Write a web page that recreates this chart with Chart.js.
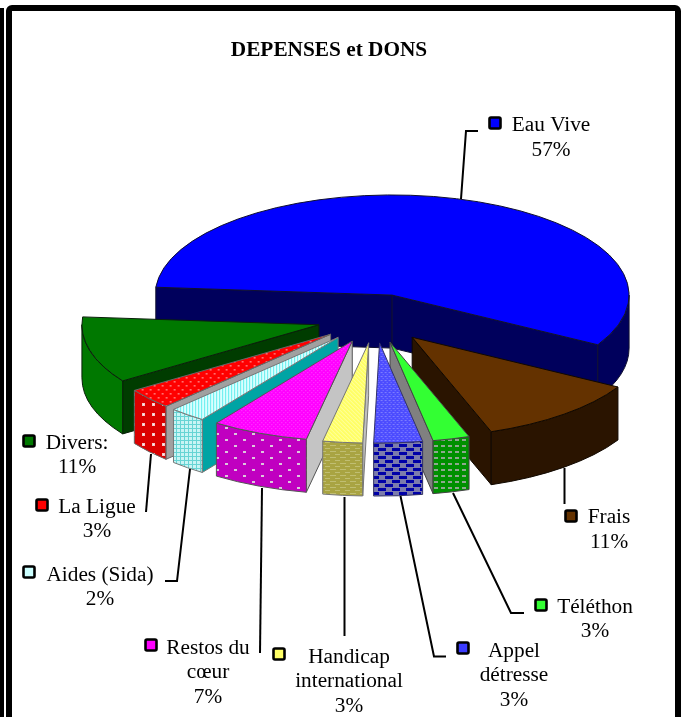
<!DOCTYPE html>
<html><head><meta charset="utf-8">
<style>html,body{margin:0;padding:0;background:#fff}canvas{display:block}</style>
<script src="https://cdn.jsdelivr.net/npm/chart.js@4"></script>
</head><body><canvas id="c" width="686" height="717"></canvas>
<script>
const titleText = 'DEPENSES et DONS';
const categories = ['Eau Vive','Frais','Téléthon','Appel détresse','Handicap international','Restos du cœur','Aides (Sida)','La Ligue','Divers:'];
const percents = [56.9,11.3,2.5,3.3,2.7,6.6,2.5,3.3,10.7];

// ---- look & layout (not data) ----
const PIE = {cx:375, cy:318.5, rx:237, k:0.4225, depth:53, explode:58, rotation:274.5};
const FONT = "21.3px 'Liberation Serif'";
function tile(w,h,bg,draw){
  const c=document.createElement('canvas');c.width=w;c.height=h;
  const g=c.getContext('2d');g.fillStyle=bg;g.fillRect(0,0,w,h);
  if(draw)draw(g);return g.canvas;
}
function px(g,color,list){g.fillStyle=color;list.forEach(p=>g.fillRect(p[0],p[1],p[2]||1,p[3]||1));}
const ctxPat=document.getElementById('c').getContext('2d');
function pat(canvas,flat){
  const p=ctxPat.createPattern(canvas,'repeat');
  if(flat)p.setTransform(new DOMMatrix([1,0,0,1/PIE.k,0,0]));
  return p;
}
const topFill=[
  '#0000ff','#643200','#33ff33',
  pat(tile(4,4,'#4c4cff',g=>px(g,'#8080ff',[[0,0],[2,2,2,1]])),true),
  pat(tile(4,4,'#ffff66',g=>px(g,'#ffffa8',[[0,0],[1,1],[2,2],[3,3]])),true),
  pat(tile(4,4,'#ff00ff',g=>px(g,'#ff50ff',[[0,0],[2,2]])),true),
  pat(tile(3,3,'#d8ffff',g=>px(g,'#66eeee',[[0,0,1,3]])),true),
  pat(tile(8,8,'#ff0000',g=>px(g,'#ffb0b0',[[0,0,2,1],[4,4,2,1]])),true),
  '#007800'];
const outerFill=[
  '#00005c','#2a1400',null,null,null,null,null,null,'#007800'];
outerFill[2]=pat(tile(7,6,'#009000',g=>px(g,'#8fa88f',[[0,1,4,2]])));
outerFill[3]=pat(tile(14,8,'#7c7cac',g=>px(g,'#0000a8',[[0,0,8,3],[7,4,7,3],[0,4,1,3]])));
outerFill[4]=pat(tile(10,6,'#a9a442',g=>px(g,'#c0be72',[[0,1,6,1],[5,4,5,1]])));
outerFill[5]=pat(tile(18,12,'#c000c0',g=>px(g,'#dcc8dc',[[0,1,3,2],[9,7,3,2]])));
outerFill[6]=pat(tile(4,4,'#c8f4f4',g=>px(g,'#66d4d4',[[0,0,4,1],[0,0,1,4]])));
outerFill[7]=pat(tile(10,10,'#dc0000',g=>{px(g,'#f2c8c8',[[2,3,3,3]]);px(g,'#fff0f0',[[3,4]]);}));
const cutFill=['#00005c','#2a1400','#808080','#808080','#c0c0c0','#c4c4c4','#00a4a4','#a0a0a0','#003c00'];
const edge=['#101030','#100800','#444','#333366','#777','#555','#777','#666','#0a200a'];

const labels=[
 {lines:['Eau Vive','57%'],x:551,y:125.5,key:[495,123],lead:[[461,199],[466,131],[478,131]]},
 {lines:['Frais','11%'],x:609,y:517.5,key:[571,516],lead:[[564.5,468],[564.5,504]]},
 {lines:['Téléthon','3%'],x:595,y:607,key:[541,605],lead:[[453,493],[511,613],[524,613]]},
 {lines:['Appel','détresse','3%'],x:514,y:651,key:[463,648],lead:[[400.5,496],[434,656.5],[446,656.5]]},
 {lines:['Handicap','international','3%'],x:349,y:657,key:[279,654],lead:[[344.5,497],[344.5,636]]},
 {lines:['Restos du','cœur','7%'],x:208,y:648,key:[151,645],lead:[[262,488],[260,653]]},
 {lines:['Aides (Sida)','2%'],x:100,y:575,key:[29,572],lead:[[190,469],[177,581],[165,581]]},
 {lines:['La Ligue','3%'],x:97,y:507,key:[42,505],lead:[[151,454],[146,512]]},
 {lines:['Divers:','11%'],x:77,y:443,key:[29,441],lead:[]}
];
const keyFill=['#0000ff','#643200','#33ff33','#3c3cff','#ffff66','#ff00ff','#ccffff','#ff0000','#007800'];

const pie3d={
  id:'pie3d',
  beforeDraw(chart){
    const c=chart.ctx;c.save();
    c.fillStyle='#fff';c.fillRect(0,0,686,717);
    c.fillStyle='#000';c.fillRect(0,8,4,709);
    c.strokeStyle='#000';c.lineWidth=6;
    c.beginPath();c.roundRect(9,8,669,790,3);c.stroke();
    c.restore();
  },
  beforeDatasetsDraw(chart){
    const c=chart.ctx,arcs=chart.getDatasetMeta(0).data;
    const k=PIE.k,d=PIE.depth;
    const order=arcs.map((a,i)=>i).sort((p,q)=>
      Math.sin((arcs[p].startAngle+arcs[p].endAngle)/2)-Math.sin((arcs[q].startAngle+arcs[q].endAngle)/2));
    order.forEach(i=>{
      const a=arcs[i],a0=a.startAngle,a1=a.endAngle,R=a.outerRadius,mid=(a0+a1)/2;
      const ox=PIE.cx+Math.cos(mid)*PIE.explode, oy=PIE.cy+Math.sin(mid)*PIE.explode*k;
      const P=t=>[ox+R*Math.cos(t),oy+R*k*Math.sin(t)];
      c.save();c.lineWidth=1;c.strokeStyle=edge[i];c.lineJoin='round';
      const wall=t=>{
        const p=P(t);c.beginPath();c.moveTo(ox,oy);c.lineTo(p[0],p[1]);c.lineTo(p[0],p[1]+d);c.lineTo(ox,oy+d);c.closePath();
        c.fillStyle=cutFill[i];c.fill();c.stroke();
      };
      if(Math.cos(a0)<0)wall(a0);
      if(Math.cos(a1)>0)wall(a1);
      [0,2*Math.PI].forEach(base=>{
        const s=Math.max(a0,base),e=Math.min(a1,base+Math.PI);
        if(e>s){
          c.beginPath();c.ellipse(ox,oy,R,R*k,0,s,e);c.ellipse(ox,oy+d,R,R*k,0,e,s,true);c.closePath();
          c.fillStyle=outerFill[i];c.fill();c.stroke();
        }
      });
      c.save();
      c.translate(ox,oy);c.scale(1,k);c.translate(-a.x,-a.y);
      a.draw(c);
      c.beginPath();c.moveTo(a.x,a.y);c.arc(a.x,a.y,R,a0,a1);c.closePath();
      c.restore();
      c.stroke();
      c.restore();
    });
    return false;
  },
  afterDraw(chart){
    const c=chart.ctx;c.save();
    c.strokeStyle='#000';c.lineWidth=2;c.lineJoin='miter';
    labels.forEach((l,i)=>{
      if(l.lead.length){c.beginPath();l.lead.forEach((p,j)=>j?c.lineTo(p[0],p[1]):c.moveTo(p[0],p[1]));c.stroke();}
      c.fillStyle=keyFill[i];
      c.save();c.lineWidth=2.6;c.beginPath();c.roundRect(l.key[0]-5.5,l.key[1]-5.5,11,11,1.5);c.fill();c.stroke();c.restore();
      c.fillStyle='#000';c.font=FONT;c.textAlign='center';c.textBaseline='middle';
      l.lines.forEach((t,j)=>c.fillText(t,l.x,l.y+j*24.7));
    });
    c.restore();
  }
};

new Chart(document.getElementById('c'),{
  type:'pie',
  data:{labels:categories,datasets:[{data:percents,backgroundColor:topFill,borderWidth:0,clip:false}]},
  plugins:[pie3d],
  options:{
    responsive:false,animation:false,events:[],
    rotation:PIE.rotation,radius:PIE.rx,
    layout:{padding:{top:0,right:28,left:0,bottom:0}},
    plugins:{
      legend:{display:false},tooltip:{enabled:false},
      title:{display:true,text:titleText,color:'#000',
        font:{family:"'Liberation Serif'",size:21.3,weight:'bold'},
        padding:{top:38,bottom:0}}
    }
  }
});
</script></body></html>
